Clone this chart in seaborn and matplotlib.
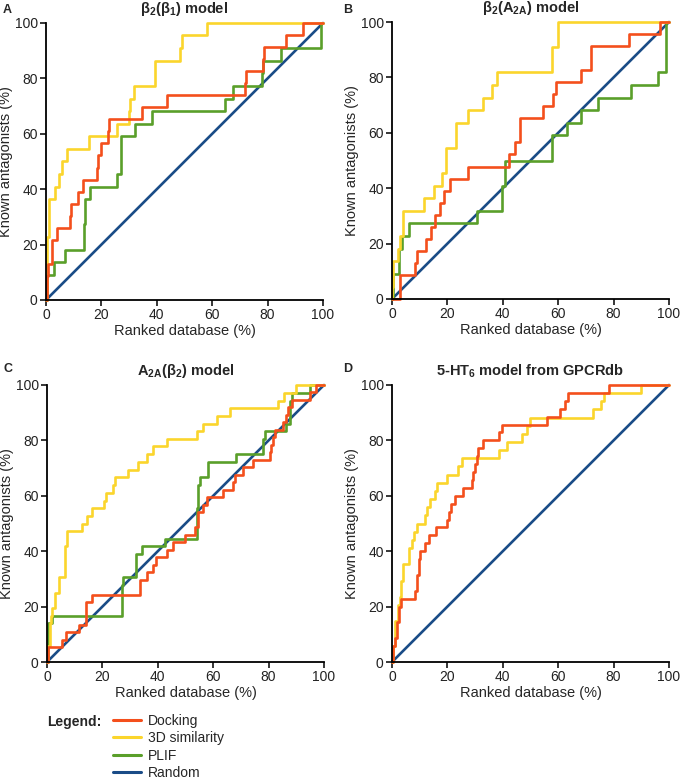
import numpy as np
import pandas as pd
import matplotlib
matplotlib.use("Agg")
import matplotlib.pyplot as plt
from matplotlib.lines import Line2D
import seaborn as sns

sns.set_theme(style="ticks")
plt.rcParams["font.family"] = ["Liberation Sans", "DejaVu Sans"]
plt.rcParams["mathtext.default"] = "regular"

# ----------------------------------------------------------------------
# Enrichment curves: x = % of ranked database where the curve steps up,
# y = % of known antagonists found (step-post curves)
# ----------------------------------------------------------------------
# Panel A: beta2(beta1) model
a_dock_x = [0, 0.3, 0.6, 2.0, 4.0, 8.6, 8.9, 11.5, 13.2, 18.3, 18.6, 19.9, 22.3, 22.6, 34.6, 43.6, 71.8, 72.3, 78.3, 78.6, 86.8, 92.8, 100]
a_dock_y = [0, 8.7, 13.0, 21.7, 26.1, 30.4, 34.8, 39.1, 43.5, 47.8, 52.2, 56.5, 60.9, 65.2, 69.6, 73.9, 78.3, 82.6, 87.0, 91.3, 95.7, 100, 100]
a_sim_x = [0, 0.2, 0.5, 1.2, 3.4, 4.6, 5.8, 7.6, 15.4, 25.6, 29.8, 30.4, 31.6, 39.4, 48.4, 49.0, 58.0, 100]
a_sim_y = [0, 9.1, 22.7, 36.4, 40.9, 45.5, 50.0, 54.5, 59.1, 63.6, 68.2, 72.7, 77.3, 86.4, 90.9, 95.5, 100, 100]
a_plif_x = [0, 0.3, 2.8, 7.0, 13.8, 14.2, 16.0, 25.6, 27.1, 32.2, 38.2, 64.6, 67.6, 77.8, 78.3, 85.0, 99.4, 100]
a_plif_y = [0, 9.1, 13.6, 18.2, 27.3, 36.4, 40.9, 45.5, 59.1, 63.6, 68.2, 72.7, 77.3, 81.8, 86.4, 90.9, 100, 100]

# Panel B: beta2(A2A) model
b_dock_x = [0, 3.0, 8.4, 9.2, 12.4, 14.2, 15.4, 17.4, 18.8, 20.8, 27.6, 42.4, 44.4, 46.2, 54.4, 58.0, 59.2, 68.4, 72.0, 85.6, 96.6, 100]
b_dock_y = [0, 8.7, 13.0, 17.4, 21.7, 26.1, 30.4, 34.8, 39.1, 43.5, 47.8, 52.2, 56.5, 65.2, 69.6, 73.9, 78.3, 82.6, 91.3, 95.7, 100, 100]
b_sim_x = [0, 0.1, 0.5, 2.0, 3.0, 4.0, 11.4, 15.0, 18.0, 19.6, 23.2, 27.6, 32.8, 36.0, 38.0, 57.6, 60.0, 100]
b_sim_y = [0, 4.5, 13.6, 18.2, 22.7, 31.8, 36.4, 40.9, 45.5, 54.5, 63.6, 68.2, 72.7, 77.3, 81.8, 90.9, 100, 100]
b_plif_x = [0, 0.2, 2.5, 3.6, 6.0, 30.6, 39.6, 40.8, 57.6, 63.0, 68.4, 74.4, 86.2, 96.0, 98.8, 100]
b_plif_y = [0, 9.1, 18.2, 22.7, 27.3, 31.8, 40.9, 50.0, 59.1, 63.6, 68.2, 72.7, 77.3, 81.8, 100, 100]

# Panel C: A2A(beta2) model
c_dock_x = [0, 0.4, 5.4, 7.0, 11.4, 14.2, 16.2, 33.6, 36.0, 38.2, 39.4, 43.2, 45.6, 49.8, 53.4, 54.6, 56.4, 57.6, 63.6, 67.2, 68.0, 70.8, 74.4, 80.4, 81.0, 81.6, 82.2, 85.2, 86.4, 87.0, 88.6, 94.8, 97.2, 100]
c_dock_y = [0, 5.4, 8.1, 10.8, 13.5, 21.6, 24.3, 29.7, 32.4, 35.1, 37.8, 40.5, 43.2, 45.9, 48.6, 54.1, 56.8, 59.5, 62.2, 64.9, 67.6, 70.3, 73.0, 75.7, 78.4, 81.1, 83.8, 86.5, 89.2, 91.9, 94.6, 97.3, 100, 100]
c_sim_x = [0, 0.2, 1.0, 1.4, 1.8, 2.8, 4.4, 6.6, 7.4, 12.6, 14.4, 16.2, 20.4, 21.4, 24.0, 24.6, 29.4, 33.0, 36.0, 38.2, 43.2, 54.0, 56.4, 61.2, 66.0, 83.4, 85.6, 90.0, 100]
c_sim_y = [0, 5.6, 13.9, 16.7, 19.4, 25.0, 30.6, 41.7, 47.2, 50.0, 52.8, 55.6, 58.3, 61.1, 63.9, 66.7, 69.4, 72.2, 75.0, 77.8, 80.6, 83.3, 86.1, 88.9, 91.7, 94.4, 97.2, 100, 100]
c_plif_x = [0, 0.3, 1.8, 27.0, 27.4, 32.2, 34.2, 42.6, 54.0, 54.6, 55.4, 58.2, 68.4, 78.0, 78.6, 86.4, 87.6, 88.4, 94.8, 100]
c_plif_y = [0, 13.9, 16.7, 27.8, 30.6, 38.9, 41.7, 44.4, 55.6, 63.9, 66.7, 72.2, 75.0, 80.6, 83.3, 86.1, 94.4, 97.2, 100, 100]

# Panel D: 5-HT6 model from GPCRdb (no PLIF curve)
d_dock_x = [0, 0.5, 1.0, 1.8, 2.5, 3.2, 8.4, 9.0, 9.6, 10.2, 12.0, 13.2, 16.0, 19.8, 20.6, 21.4, 22.8, 25.8, 28.8, 29.4, 30.0, 30.6, 31.2, 33.0, 38.8, 39.6, 55.8, 60.6, 62.4, 63.4, 78.4, 100]
d_dock_y = [0, 5.7, 8.6, 14.3, 20.0, 22.9, 25.7, 31.4, 37.1, 40.0, 42.9, 45.7, 48.6, 51.4, 54.3, 57.1, 60.0, 62.9, 65.7, 68.6, 71.4, 74.3, 77.1, 80.0, 82.9, 85.7, 88.6, 91.4, 94.3, 97.1, 100, 100]
d_sim_x = [0, 0.2, 1.0, 2.0, 2.8, 3.4, 4.0, 6.0, 7.2, 8.0, 9.2, 12.0, 12.6, 13.8, 15.4, 16.2, 19.8, 24.0, 25.2, 38.8, 41.4, 46.8, 48.6, 49.8, 72.6, 75.6, 76.6, 90.0, 100]
d_sim_y = [0, 5.9, 14.7, 20.6, 23.5, 29.4, 35.3, 41.2, 44.1, 47.1, 50.0, 52.9, 55.9, 58.8, 61.8, 64.7, 67.6, 70.6, 73.5, 76.5, 79.4, 82.4, 85.3, 88.2, 91.2, 94.1, 97.1, 100, 100]

random_x = [0, 100]
random_y = [0, 100]

methods = ["Docking", "3D similarity", "PLIF", "Random"]
colors = {"Docking": "#f44f1c", "3D similarity": "#fbd52c",
          "PLIF": "#5a9f2a", "Random": "#1a4c87"}

panels = [
    ("A", r"β$_2$(β$_1$) model", (a_dock_x, a_dock_y), (a_sim_x, a_sim_y), (a_plif_x, a_plif_y)),
    ("B", r"β$_2$(A$_{2A}$) model", (b_dock_x, b_dock_y), (b_sim_x, b_sim_y), (b_plif_x, b_plif_y)),
    ("C", r"A$_{2A}$(β$_2$) model", (c_dock_x, c_dock_y), (c_sim_x, c_sim_y), (c_plif_x, c_plif_y)),
    ("D", r"5-HT$_6$ model from GPCRdb", (d_dock_x, d_dock_y), (d_sim_x, d_sim_y), None),
]

# axes boxes in figure fractions (left, bottom, width, height)
W, H = 680, 782
boxes = [
    (46 / W, 1 - 300 / H, 277 / W, 277 / H),
    (392 / W, 1 - 299 / H, 277 / W, 277 / H),
    (47 / W, 1 - 662 / H, 277 / W, 277 / H),
    (392 / W, 1 - 662 / H, 277 / W, 277 / H),
]
letter_pos = [(3, 4), (343, 4), (3, 363), (343, 363)]

fig = plt.figure(figsize=(6.8, 7.82), dpi=100)
lw = 1.9

for (letter, title, dock, sim, plif), box, lp in zip(panels, boxes, letter_pos):
    ax = fig.add_axes(box)
    sns.lineplot(x=random_x, y=random_y, color=colors["Random"], lw=lw, ax=ax,
                 estimator=None, sort=False, clip_on=False)
    if plif is not None:
        sns.lineplot(x=plif[0], y=plif[1], color=colors["PLIF"], lw=lw, ax=ax,
                     estimator=None, sort=False, drawstyle="steps-post", clip_on=False)
    sns.lineplot(x=sim[0], y=sim[1], color=colors["3D similarity"], lw=lw, ax=ax,
                 estimator=None, sort=False, drawstyle="steps-post", clip_on=False)
    sns.lineplot(x=dock[0], y=dock[1], color=colors["Docking"], lw=lw, ax=ax,
                 estimator=None, sort=False, drawstyle="steps-post", clip_on=False)

    ax.set_xlim(0, 100)
    ax.set_ylim(0, 100)
    ax.set_xticks(range(0, 101, 20))
    ax.set_yticks(range(0, 101, 20))
    sns.despine(ax=ax)
    for s in ["left", "bottom"]:
        ax.spines[s].set_color("black")
        ax.spines[s].set_linewidth(1.3)
    ax.tick_params(axis="both", labelsize=10, length=4, width=1.1, color="black",
                   labelcolor="#222222", pad=2)
    ax.set_xlabel("Ranked database (%)", fontsize=10.5, labelpad=1)
    ax.set_ylabel("Known antagonists (%)", fontsize=10.5)
    ax.yaxis.set_label_coords(-0.118, 0.5)
    ax.set_title(title, fontsize=10.5, fontweight="bold", pad=7)
    fig.text(lp[0] / W, 1 - lp[1] / H, letter, fontsize=9, fontweight="bold",
             ha="left", va="top")

# legend block at bottom left
fig.text(47 / W, 1 - 722 / H, "Legend:", fontsize=10, fontweight="bold",
         ha="left", va="center")
handles = [Line2D([0], [0], color=colors[m], lw=2.2) for m in methods]
fig.legend(handles, methods, loc="upper left", bbox_to_anchor=(113 / W, 1 - 714 / H),
           frameon=False, fontsize=10, handlelength=2.0, handletextpad=0.5,
           labelspacing=0.24, borderaxespad=0, borderpad=0)

plt.savefig("out.png", dpi=100)
plt.close()
